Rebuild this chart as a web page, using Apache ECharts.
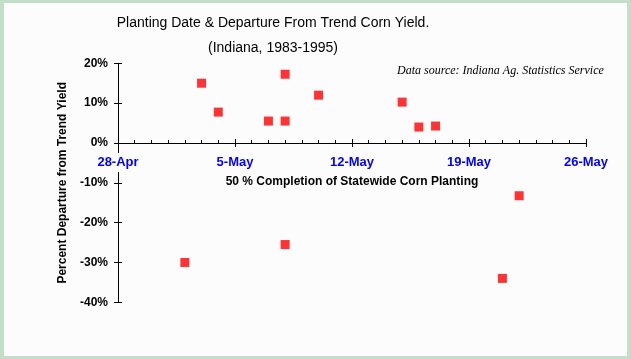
<!DOCTYPE html>
<html>
<head>
<meta charset="utf-8">
<script src="https://cdn.jsdelivr.net/npm/echarts@6/dist/echarts.min.js"></script>
<style>
  html, body { margin: 0; padding: 0; }
  #frame { position: relative; width: 631px; height: 359px; background: #C4DEC8; overflow: hidden; }
  #chart { position: absolute; left: 4px; top: 3px; width: 623px; height: 353px; background: #FCFCFC; }
</style>
</head>
<body>
<div id="frame"><div id="chart"></div></div>
<script>
// ---- Data ----
const titleLines = ['Planting Date & Departure From Trend Corn Yield.', '(Indiana, 1983-1995)'];
const xTickLabels = ['28-Apr', '5-May', '12-May', '19-May', '26-May'];
const plantingDates = ['3-May', '4-May', '8-May', '7-May', '8-May', '10-May', '15-May', '16-May', '17-May', '2-May', '8-May', '21-May', '22-May'];
const departurePct = [15, 7.75, 17.25, 5.5, 5.5, 12, 10.25, 4, 4.25, -30, -25.5, -34, -13.25];
const yMin = -40, yMax = 20, yStep = 10;
const xAxisTitle = '50 % Completion of Statewide Corn Planting';
const yAxisTitle = 'Percent Departure from Trend Yield';
const sourceNote = 'Data source: Indiana Ag. Statistics Service';

// days since 28-Apr
function dayOffset(s) {
  const parts = s.split('-');
  const d = parseInt(parts[0], 10);
  return parts[1] === 'Apr' ? d - 28 : d + 2;
}
const xMax = (xTickLabels.length - 1) * 7;
const points = plantingDates.map((d, i) => [dayOffset(d), departurePct[i]]);

const chart = echarts.init(document.getElementById('chart'), null, { renderer: 'canvas' });
const font = "'Liberation Sans', Arial, sans-serif";

const plotLeft = 114, plotTop = 60.3, plotWidth = 468, plotHeight = 239;
// upper grid ends at the 0% level so the date axis sits on zero
const upperHeight = plotHeight * yMax / (yMax - yMin);

const baseX = {
  type: 'value', min: 0, max: xMax, interval: 7, position: 'bottom',
  axisLine: { onZero: false, lineStyle: { color: '#000', width: 1 } },
  splitLine: { show: false }
};
const baseY = {
  type: 'value', min: yMin, max: yMax, interval: yStep, position: 'left', gridIndex: 0,
  axisLine: { show: true, onZero: false, lineStyle: { color: '#000', width: 1 } },
  splitLine: { show: false }
};

chart.setOption({
  animation: false,
  backgroundColor: '#FCFCFC',
  title: {
    text: titleLines.join('\n'),
    left: 269, top: 8, textAlign: 'center', padding: 0,
    textStyle: { fontFamily: font, fontSize: 14, fontWeight: 'normal', color: '#000', lineHeight: 25 }
  },
  graphic: [{
    type: 'text', left: 393, top: 62,
    style: { text: sourceNote, fontFamily: "'Liberation Serif', 'Times New Roman', serif", fontStyle: 'italic', fontSize: 12, fill: '#000' }
  }],
  grid: [
    { left: plotLeft, top: plotTop, width: plotWidth, height: plotHeight },
    { left: plotLeft, top: plotTop, width: plotWidth, height: upperHeight }
  ],
  xAxis: [
    Object.assign({}, baseX, { gridIndex: 0, show: false }),
    Object.assign({}, baseX, {
      gridIndex: 1, z: 5,
      axisTick: { show: true, inside: false, length: 4, lineStyle: { color: '#000' } },
      axisLabel: {
        show: true, margin: 10, showMinLabel: true, showMaxLabel: true,
        color: '#0000FF', fontFamily: font, fontSize: 13, fontWeight: 'bold',
        backgroundColor: '#FCFCFC', padding: [3, 2, 3, 2],
        formatter: v => xTickLabels[Math.round(v / 7)]
      },
      name: xAxisTitle, nameLocation: 'middle', nameGap: 33,
      nameTextStyle: { color: '#000', fontFamily: font, fontSize: 12, fontWeight: 'bold' }
    }),
    Object.assign({}, baseX, {
      gridIndex: 1,
      axisLine: { show: false },
      axisTick: { show: true, inside: true, length: 4, lineStyle: { color: '#000' } },
      minorTick: { show: true, splitNumber: 7, length: 3, lineStyle: { color: '#000' } },
      axisLabel: { show: false }
    })
  ],
  yAxis: [
    Object.assign({}, baseY, {
      axisTick: { show: true, inside: false, length: 4, lineStyle: { color: '#000' } },
      axisLabel: {
        show: true, margin: 10, color: '#000', fontFamily: font, fontSize: 12, fontWeight: 'bold',
        formatter: v => v + '%'
      },
      name: yAxisTitle, nameLocation: 'middle', nameGap: 46, nameRotate: 90,
      nameTextStyle: { color: '#000', fontFamily: font, fontSize: 12, fontWeight: 'bold' }
    }),
    Object.assign({}, baseY, {
      axisLine: { show: false },
      axisTick: { show: true, inside: true, length: 4, lineStyle: { color: '#000' } },
      axisLabel: { show: false }
    }),
    { type: 'value', gridIndex: 1, min: 0, max: yMax, show: false, splitLine: { show: false } }
  ],
  series: [{
    type: 'scatter',
    xAxisIndex: 0, yAxisIndex: 0,
    symbol: 'rect', symbolSize: 9,
    itemStyle: { color: '#FF0000' },
    data: points
  }]
});
</script>
</body>
</html>
